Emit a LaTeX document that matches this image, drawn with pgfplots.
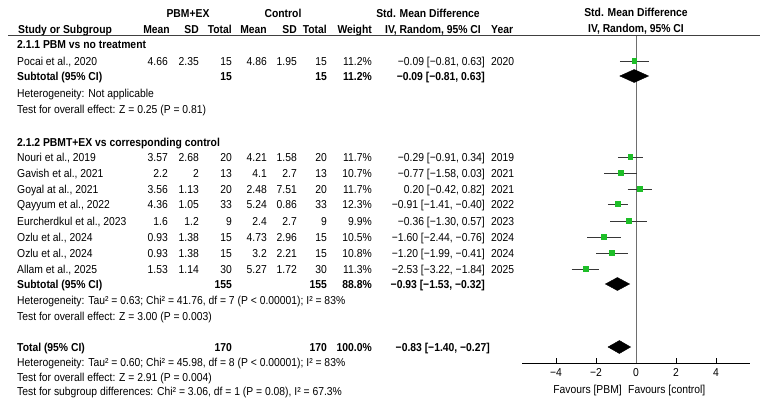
\documentclass[border=0pt]{standalone}
\usepackage{pgfplots}
\pgfplotsset{compat=1.18}
\usepackage{fontspec}
\setmainfont{Liberation Sans}[FakeStretch=0.9]
\definecolor{mk}{RGB}{30,190,40}
\definecolor{cil}{RGB}{55,55,55}
\definecolor{vl}{RGB}{110,110,110}
\newcommand\fs{\fontsize{11.5bp}{13bp}\selectfont}
\newcommand\tl[3]{\node[anchor=base west] at (#1bp,{-#2bp-4bp}) {#3};}
\newcommand\tr[3]{\node[anchor=base east] at (#1bp,{-#2bp-4bp}) {#3};}
\newcommand\tc[3]{\node[anchor=base] at (#1bp,{-#2bp-4bp}) {#3};}
\newcommand\datarow[8]{\tl{17}{#1}{#2}\tr{168}{#1}{#3}\tr{199}{#1}{#4}\tr{232}{#1}{#5}\tr{267}{#1}{#6}\tr{297}{#1}{#7}\tr{327}{#1}{#8}}
\newcommand\restrow[4]{\tr{372}{#1}{#2}\tr{485}{#1}{#3}\tl{491}{#1}{#4}}
\begin{document}
\begin{tikzpicture}[every node/.style={font=\fs,inner sep=0pt,text=black}]
\useasboundingbox (0bp,0bp) rectangle (760bp,-411bp);
% header
\tc{188}{13}{\bfseries PBM+EX}
\tc{283}{13}{\bfseries Control}
\tc{428}{13}{\bfseries Std. Mean Difference}
\tc{636}{12}{\bfseries Std. Mean Difference}
\tl{18}{29}{\bfseries Study or Subgroup}
\tr{170}{29}{\bfseries Mean}
\tr{199}{29}{\bfseries SD}
\tr{232}{29}{\bfseries Total}
\tr{267}{29}{\bfseries Mean}
\tr{297}{29}{\bfseries SD}
\tr{327}{29}{\bfseries Total}
\tr{372}{29}{\bfseries Weight}
\tr{481}{29}{\bfseries IV, Random, 95\% CI}
\tl{491}{29}{\bfseries Year}
\tc{636}{28}{\bfseries IV, Random, 95\% CI}
\draw[line width=0.9bp,black!75] (8bp,-35.5bp) -- (760bp,-35.5bp);
% subgroup 1
\tl{17}{44}{\bfseries 2.1.1 PBM vs no treatment}
\datarow{61}{Pocai et al., 2020}{4.66}{2.35}{15}{4.86}{1.95}{15}
\restrow{61}{11.2\%}{−0.09 [−0.81, 0.63]}{2020}
\tl{17}{76}{\bfseries Subtotal (95\% CI)}
\tr{232}{76}{\bfseries 15}\tr{327}{76}{\bfseries 15}
\tr{372}{76}{\bfseries 11.2\%}\tr{485}{76}{\bfseries −0.09 [−0.81, 0.63]}
\tl{17}{93}{Heterogeneity: Not applicable}
\tl{17}{109}{Test for overall effect: Z = 0.25 (P = 0.81)}
% subgroup 2
\tl{17}{142}{\bfseries 2.1.2 PBMT+EX vs corresponding control}
\datarow{157}{Nouri et al., 2019}{3.57}{2.68}{20}{4.21}{1.58}{20}
\restrow{157}{11.7\%}{−0.29 [−0.91, 0.34]}{2019}
\datarow{173}{Gavish et al., 2021}{2.2}{2}{13}{4.1}{2.7}{13}
\restrow{173}{10.7\%}{−0.77 [−1.58, 0.03]}{2021}
\datarow{189}{Goyal at al., 2021}{3.56}{1.13}{20}{2.48}{7.51}{20}
\restrow{189}{11.7\%}{0.20 [−0.42, 0.82]}{2021}
\datarow{204}{Qayyum et al., 2022}{4.36}{1.05}{33}{5.24}{0.86}{33}
\restrow{204}{12.3\%}{−0.91 [−1.41, −0.40]}{2022}
\datarow{221}{Eurcherdkul et al., 2023}{1.6}{1.2}{9}{2.4}{2.7}{9}
\restrow{221}{9.9\%}{−0.36 [−1.30, 0.57]}{2023}
\datarow{237}{Ozlu et al., 2024}{0.93}{1.38}{15}{4.73}{2.96}{15}
\restrow{237}{10.5\%}{−1.60 [−2.44, −0.76]}{2024}
\datarow{253}{Ozlu et al., 2024}{0.93}{1.38}{15}{3.2}{2.21}{15}
\restrow{253}{10.8\%}{−1.20 [−1.99, −0.41]}{2024}
\datarow{269}{Allam et al., 2025}{1.53}{1.14}{30}{5.27}{1.72}{30}
\restrow{269}{11.3\%}{−2.53 [−3.22, −1.84]}{2025}
\tl{17}{284}{\bfseries Subtotal (95\% CI)}
\tr{232}{284}{\bfseries 155}\tr{327}{284}{\bfseries 155}
\tr{372}{284}{\bfseries 88.8\%}\tr{485}{284}{\bfseries −0.93 [−1.53, −0.32]}
\tl{17}{300}{Heterogeneity: Tau² = 0.63; Chi² = 41.76, df = 7 (P < 0.00001); I² = 83\%}
\tl{17}{316}{Test for overall effect: Z = 3.00 (P = 0.003)}
% total
\tl{17}{347}{\bfseries Total (95\% CI)}
\tr{232}{347}{\bfseries 170}\tr{327}{347}{\bfseries 170}
\tr{372}{347}{\bfseries 100.0\%}\tr{490}{347}{\bfseries −0.83 [−1.40, −0.27]}
\tl{17}{362}{Heterogeneity: Tau² = 0.60; Chi² = 45.98, df = 8 (P < 0.00001); I² = 83\%}
\tl{17}{377}{Test for overall effect: Z = 2.91 (P = 0.004)}
\tl{17}{391}{Test for subgroup differences: Chi² = 3.06, df = 1 (P = 0.08), I² = 67.3\%}
% favours
\tr{622}{389}{Favours [PBM]}
\tl{628}{389}{Favours [control]}
\begin{axis}[at={(522bp,-363bp)},anchor=south west,scale only axis,
  width=228bp,height=327bp,xmin=-5.7,xmax=5.7,ymin=-363,ymax=-36,
  axis x line=bottom,axis y line=none,x axis line style={-,line width=1bp,black},
  xtick={-4,-2,0,2,4},xticklabels={},
  tick align=inside,major tick length=5bp,
  tick style={black,line width=1bp},clip=false]
\addplot[vl,line width=1bp] coordinates {(0,-363) (0,-36)};
% tick labels
\node[anchor=north,yshift=-5bp] at (axis cs:-4,-363) {−4};
\node[anchor=north,yshift=-5bp] at (axis cs:-2,-363) {−2};
\node[anchor=north,yshift=-5bp] at (axis cs:0,-363) {0};
\node[anchor=north,yshift=-5bp] at (axis cs:2,-363) {2};
\node[anchor=north,yshift=-5bp] at (axis cs:4,-363) {4};
% CI lines
\addplot[cil,line width=1bp] coordinates {(-0.81,-61) (0.63,-61)};
\addplot[cil,line width=1bp] coordinates {(-0.91,-157) (0.34,-157)};
\addplot[cil,line width=1bp] coordinates {(-1.58,-173) (0.03,-173)};
\addplot[cil,line width=1bp] coordinates {(-0.42,-189) (0.82,-189)};
\addplot[cil,line width=1bp] coordinates {(-1.41,-204) (-0.40,-204)};
\addplot[cil,line width=1bp] coordinates {(-1.30,-221) (0.57,-221)};
\addplot[cil,line width=1bp] coordinates {(-2.44,-237) (-0.76,-237)};
\addplot[cil,line width=1bp] coordinates {(-1.99,-253) (-0.41,-253)};
\addplot[cil,line width=1bp] coordinates {(-3.22,-269) (-1.84,-269)};
% point estimates
\addplot[only marks,mark=square*,mark size=2.4bp,mark options={fill=mk,draw=mk}] coordinates {
 (-0.09,-61) (-0.29,-157) (-0.77,-173) (0.20,-189) (-0.91,-204)
 (-0.36,-221) (-1.60,-237) (-1.20,-253) (-2.53,-269)};
% diamonds
\addplot[fill=black,draw=black] coordinates {(-0.81,-76) (-0.09,-69.5) (0.63,-76) (-0.09,-82.5)} -- cycle;
\addplot[fill=black,draw=black] coordinates {(-1.53,-284) (-0.93,-277.5) (-0.32,-284) (-0.93,-290.5)} -- cycle;
\addplot[fill=black,draw=black] coordinates {(-1.40,-347) (-0.83,-340.5) (-0.27,-347) (-0.83,-353.5)} -- cycle;
\end{axis}
\end{tikzpicture}
\end{document}
